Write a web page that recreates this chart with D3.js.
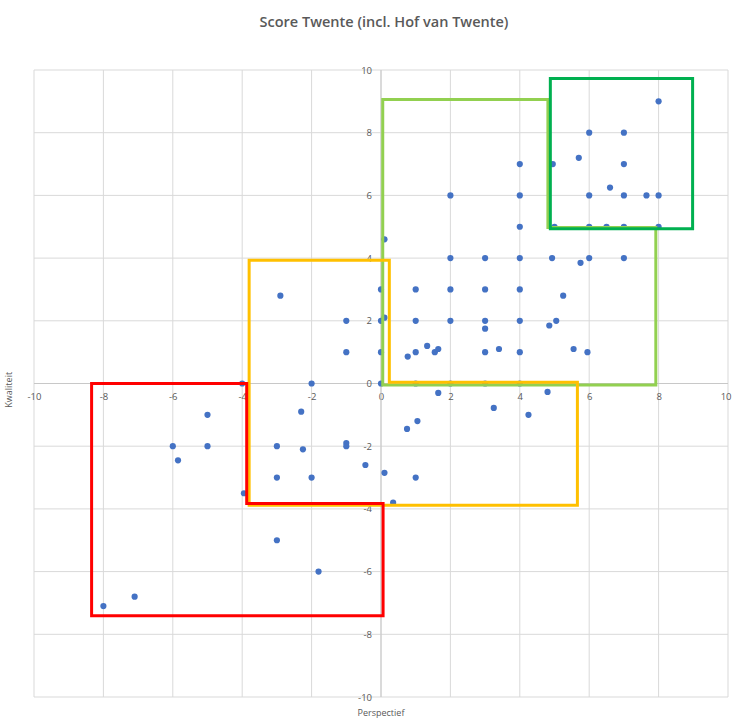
<!DOCTYPE html>
<html>
<head>
<meta charset="utf-8">
<script src="https://cdn.jsdelivr.net/npm/d3@7"></script>
<style>
  html, body { margin: 0; padding: 0; background: #fff; }
  svg { display: block; }
</style>
</head>
<body>
<svg id="chart" width="732" height="719"></svg>
<script>
// Perspectief (x) and Kwaliteit (y) scores per respondent
const perspectief = [
  -8, -7.1, -6, -5.85, -5, -5, -4, -3.95, -3, -3, -3, -2.9, -2.3, -2.25, -2, -2,
  -1.8, -1, -1, -1, -1, -0.45, 0, 0, 0, 0, 0.1, 0.1, 0.1, 0.35,
  0.75, 0.77, 1, 1, 1, 1, 1, 1.05, 1.33, 1.55, 1.65, 1.65,
  2, 2, 2, 2, 2, 3, 3, 3, 3, 3, 3, 3.25, 3.4,
  4, 4, 4, 4, 4, 4, 4, 4, 4.25, 4.8, 4.85, 4.93, 4.95, 5, 5.05, 5.25,
  5.55, 5.7, 5.75, 5.95, 6, 6, 6, 6, 6.5, 6.6, 7, 7, 7, 7, 7, 7.65, 8, 8, 8
];
const kwaliteit = [
  -7.1, -6.8, -2, -2.45, -1, -2, 0, -3.5, -2, -3, -5, 2.8, -0.9, -2.1, 0, -3,
  -6, -1.9, -2, 2, 1, -2.6, 0, 1, 2, 3, 2.1, 4.6, -2.85, -3.8,
  -1.45, 0.86, 0, 1, 2, 3, -3, -1.2, 1.2, 1, 1.1, -0.3,
  0, 2, 3, 4, 6, 0, 1, 1.75, 2, 3, 4, -0.78, 1.1,
  0, 1, 2, 3, 4, 5, 6, 7, -1, -0.27, 1.85, 4, 7, 5, 2, 2.8,
  1.1, 7.2, 3.85, 1, 4, 5, 6, 8, 5, 6.25, 4, 5, 6, 7, 8, 6, 5, 6, 9
];

// Axis ticks
const xTicks = [-10, -8, -6, -4, -2, 0, 2, 4, 6, 8, 10];
const yTicks = [-10, -8, -6, -4, -2, 0, 2, 4, 6, 8, 10];

// Highlighted zones (outline vertices in score units)
const zoneRed = [[-8.34, 0], [-3.87, 0], [-3.87, -3.83], [0.06, -3.83], [0.06, -7.41], [-8.34, -7.41]];
const zoneYellow = [[-3.8, 3.93], [0.24, 3.93], [0.24, 0.04], [5.66, 0.04], [5.66, -3.88], [-3.8, -3.88]];
const zoneLightGreen = [[0.05, 9.06], [4.81, 9.06], [4.81, 4.98], [7.92, 4.98], [7.92, -0.05], [0.05, -0.05]];
const zoneDarkGreen = [[4.88, 9.73], [8.98, 9.73], [8.98, 4.94], [4.88, 4.94]];

const svg = d3.select("#chart");
const x = d3.scaleLinear().domain([-10, 10]).range([34, 728]);
const y = d3.scaleLinear().domain([-10, 10]).range([697, 70]);

const labelColor = "#595959";
const font = "'Open Sans', 'Liberation Sans', sans-serif";

// Title
svg.append("text")
  .attr("x", 384).attr("y", 27)
  .attr("text-anchor", "middle")
  .attr("font-family", font)
  .attr("font-size", 14.5)
  .attr("font-weight", 600)
  .attr("fill", labelColor)
  .text("Score Twente (incl. Hof van Twente)");

// Gridlines
const grid = svg.append("g").attr("stroke", "#d9d9d9").attr("stroke-width", 1);
grid.selectAll("line.v").data(xTicks).join("line")
  .attr("class", "v")
  .attr("x1", d => x(d)).attr("x2", d => x(d))
  .attr("y1", y(10)).attr("y2", y(-10));
grid.selectAll("line.h").data(yTicks).join("line")
  .attr("class", "h")
  .attr("x1", x(-10)).attr("x2", x(10))
  .attr("y1", d => y(d)).attr("y2", d => y(d));

// Axes crossing at the origin
const xAxis = d3.axisBottom(x).tickValues(xTicks).tickSize(0).tickPadding(10)
  .tickFormat(d => String(d));
const yAxis = d3.axisLeft(y).tickValues(yTicks).tickSize(0).tickPadding(9)
  .tickFormat(d => String(d));

const gx = svg.append("g").attr("transform", `translate(0,${y(0)})`).call(xAxis);
const gy = svg.append("g").attr("transform", `translate(${x(0)},0)`).call(yAxis);
[gx, gy].forEach(g => {
  g.select(".domain").attr("stroke", "#c8c8c8").attr("stroke-width", 1);
  g.selectAll("text")
    .attr("font-family", font)
    .attr("font-size", 9.5)
    .attr("fill", labelColor);
});
gx.select(".domain").attr("d", `M${x(-10)},0H${x(10)}`);
gy.select(".domain").attr("d", `M0,${y(10)}V${y(-10)}`);
// keep the last x label inside the canvas
gx.selectAll(".tick").filter(d => d === 10).select("text")
  .attr("text-anchor", "end").attr("dx", 3);

// Axis titles
svg.append("text")
  .attr("transform", `translate(12,${y(-0.2)}) rotate(-90)`)
  .attr("text-anchor", "middle")
  .attr("font-family", font)
  .attr("font-size", 9)
  .attr("fill", labelColor)
  .text("Kwaliteit");
svg.append("text")
  .attr("x", x(0)).attr("y", 716)
  .attr("text-anchor", "middle")
  .attr("font-family", font)
  .attr("font-size", 9)
  .attr("fill", labelColor)
  .text("Perspectief");

// Respondents
const points = perspectief.map((p, i) => [p, kwaliteit[i]]);
svg.append("g").selectAll("circle").data(points).join("circle")
  .attr("cx", d => x(d[0]))
  .attr("cy", d => y(d[1]))
  .attr("r", 3.1)
  .attr("fill", "#4472c4");

// Zone outlines
const zoneLine = d3.line().x(d => x(d[0])).y(d => y(d[1]));
const zones = [
  { pts: zoneLightGreen, color: "#92d050" },
  { pts: zoneYellow, color: "#ffc000" },
  { pts: zoneRed, color: "#ff0000" },
  { pts: zoneDarkGreen, color: "#00b050" }
];
svg.append("g").selectAll("path").data(zones).join("path")
  .attr("d", d => zoneLine(d.pts) + "Z")
  .attr("fill", "none")
  .attr("stroke", d => d.color)
  .attr("stroke-width", 3)
  .attr("stroke-linejoin", "miter");
</script>
</body>
</html>
